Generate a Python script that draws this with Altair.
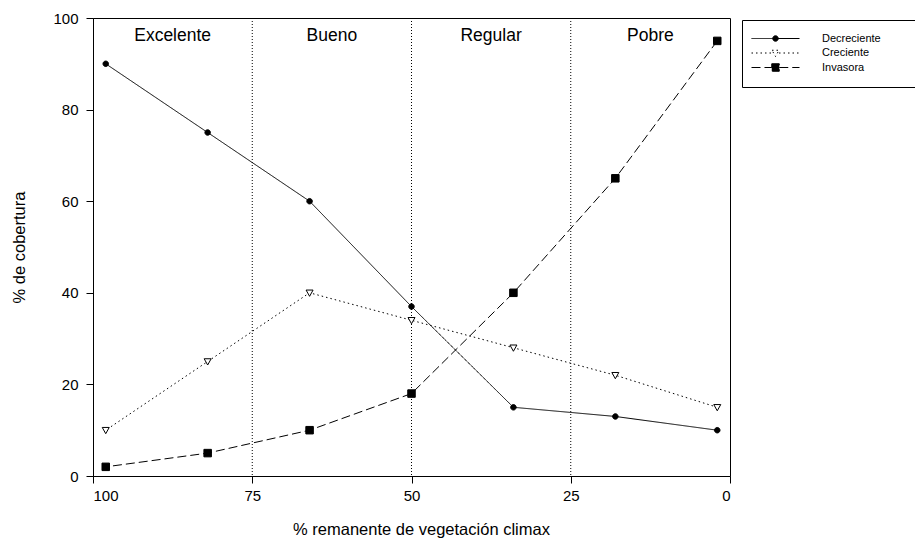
import altair as alt
import pandas as pd

# ---- data ----
x_vals = [98, 82, 66, 50, 34, 18, 2]
decreciente = [90, 75, 60, 37, 15, 13, 10]
creciente = [10, 25, 40, 34, 28, 22, 15]
invasora = [2, 5, 10, 18, 40, 65, 95]
series_names = ["Decreciente", "Creciente", "Invasora"]
marker_names = ["m-Decreciente", "m-Creciente", "m-Invasora"]

region_labels = ["Excelente", "Bueno", "Regular", "Pobre"]
region_centers = [87.5, 62.5, 37.5, 12.5]
region_label_y = [96, 96, 96, 96]
boundaries = [75, 50, 25]
x_ticks = [100, 75, 50, 25, 0]
y_ticks = [0, 20, 40, 60, 80, 100]

rows = []
for name, mname, vals in zip(series_names, marker_names, [decreciente, creciente, invasora]):
    for xv, yv in zip(x_vals, vals):
        rows.append({"x": xv, "y": yv, "serie": name, "serie_m": mname})
df = pd.DataFrame(rows)
df_regions = pd.DataFrame({"label": region_labels, "x": region_centers, "y": region_label_y})
df_bounds = pd.DataFrame({"x": boundaries})

FONT = "Liberation Sans"

x_scale = alt.Scale(domain=[0, 100], reverse=True, nice=False, zero=False)
y_scale = alt.Scale(domain=[0, 100], nice=False)

x_enc = alt.X("x:Q", scale=x_scale,
              axis=alt.Axis(values=x_ticks, title="% remanente de vegetación climax",
                            tickSize=7, labelPadding=5, titlePadding=18, format="d",
                            titleX=328, titleFontSize=16.5))
y_enc = alt.Y("y:Q", scale=y_scale,
              axis=alt.Axis(values=y_ticks, title="% de cobertura",
                            tickSize=7, labelPadding=8, titlePadding=25, titleFontSize=16.5))

dash_range = [[1, 0], [1.5, 3], [9, 4]]
# plot markers (unit paths, scaled by the point size)
circle_path = "M-0.55,0A0.55,0.55 0 1,0 0.55,0A0.55,0.55 0 1,0 -0.55,0Z"
tri_path = "M-0.7,-0.55L0.7,-0.55L0,0.7Z"
square_path = "M-0.75,-0.75H0.75V0.75H-0.75Z"
shape_range = [circle_path, tri_path, square_path]
fill_range = ["black", "white", "black"]
stroke_range = ["black", "black", "black"]
# legend symbols: line sample with the marker in its middle
legend_shape_range = [
    "M-4.8,0H-0.5M0.5,0H4.8" + circle_path,
    "M-4.8,0H-0.7M0.7,0H4.8" + tri_path,
    "M-4.8,0H-0.75M0.75,0H4.8" + square_path,
]

legend_def = alt.Legend(
    orient="none", legendX=649, legendY=2, padding=13, title=None,
    symbolSize=100, symbolOffset=15, labelOffset=41,
    labelFont=FONT, labelFontSize=11, labelColor="black",
    symbolStrokeColor="black", symbolStrokeWidth=1, rowPadding=2.5,
    strokeColor="black",
    labelExpr="datum.label + '" + "\u00a0" * 7 + "\u200b'",
)

rules = alt.Chart(df_bounds).mark_rule(color="black", strokeWidth=1, strokeDash=[1, 2]).encode(
    x=alt.X("x:Q", scale=x_scale)
)

lines = alt.Chart(df).mark_line(color="black", strokeWidth=1).encode(
    x=x_enc, y=y_enc,
    strokeDash=alt.StrokeDash("serie:N", scale=alt.Scale(domain=series_names, range=dash_range),
                              legend=None),
    order="x:Q",
)

points = alt.Chart(df).mark_point(filled=True, stroke="black", strokeWidth=1, size=100, opacity=1).encode(
    x=x_enc, y=y_enc,
    shape=alt.Shape("serie_m:N", scale=alt.Scale(domain=marker_names, range=shape_range),
                    legend=None),
    fill=alt.Fill("serie_m:N", scale=alt.Scale(domain=marker_names, range=fill_range),
                  legend=None),
)

# legend-only layer: no rows are drawn, its scales feed one combined legend
legend_layer = alt.Chart(df).transform_filter("false").mark_point(
    filled=True, strokeWidth=1, size=100, opacity=1
).encode(
    x=x_enc, y=y_enc,
    stroke=alt.Stroke("serie:N", scale=alt.Scale(domain=series_names, range=stroke_range),
                      legend=legend_def),
    shape=alt.Shape("serie:N", scale=alt.Scale(domain=series_names, range=legend_shape_range),
                    legend=legend_def),
    fill=alt.Fill("serie:N", scale=alt.Scale(domain=series_names, range=fill_range),
                  legend=legend_def),
    strokeDash=alt.StrokeDash("serie:N", scale=alt.Scale(domain=series_names, range=dash_range),
                              legend=legend_def),
)

texts = alt.Chart(df_regions).mark_text(font=FONT, fontSize=17.5, color="black").encode(
    x=alt.X("x:Q", scale=x_scale), y=alt.Y("y:Q", scale=y_scale), text="label:N"
)

chart = alt.layer(rules, lines, points, legend_layer, texts).resolve_scale(
    shape="independent", fill="independent", strokeDash="independent", stroke="independent"
).properties(
    width=637, height=458,
    autosize=alt.AutoSizeParams(type="none"),
    padding={"left": 85, "top": 10, "right": 185, "bottom": 64},
).configure_view(
    stroke="black", strokeWidth=1
).configure_axis(
    grid=False, domainColor="black", tickColor="black", labelColor="black",
    titleColor="black", labelFont=FONT, titleFont=FONT, labelFontSize=15,
    titleFontSize=16.5, titleFontWeight="normal", domainWidth=1, tickWidth=1,
).configure_legend(
    symbolBaseStrokeColor="black"
)

chart.save("out.html", embed_options={"renderer": "svg", "actions": False})
